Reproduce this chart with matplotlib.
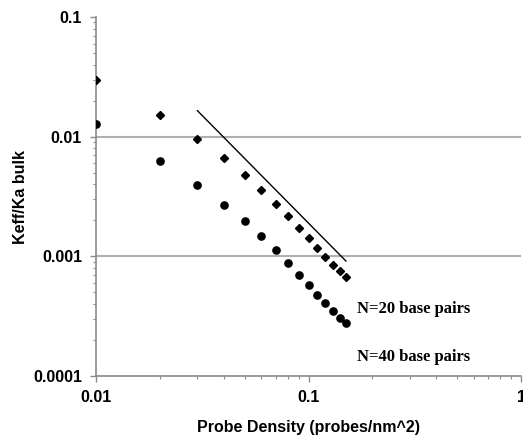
import numpy as np
import matplotlib
matplotlib.use("Agg")
import matplotlib.pyplot as plt
from matplotlib.ticker import LogLocator, NullFormatter, FixedLocator, FixedFormatter

# -------------------------------------------------
# Data
# -------------------------------------------------

probe_density = [0.01, 0.02, 0.03, 0.04, 0.05, 0.06, 0.07, 0.08,
                 0.09, 0.10, 0.11, 0.12, 0.13, 0.14, 0.15]

keff_n20 = [0.0299, 0.0151, 0.00957, 0.00659, 0.00476, 0.00357, 0.00275,
            0.00217, 0.00173, 0.00142, 0.00117, 0.000994, 0.000853,
            0.000755, 0.000673]

keff_n40 = [0.0128, 0.0063, 0.00393, 0.00268, 0.00196, 0.00147, 0.00113,
            0.00088, 0.000704, 0.000576, 0.000476, 0.000406, 0.000346,
            0.000303, 0.000275]

fit_x = [0.03, 0.15]
fit_y = [0.0165, 0.000914]

x_ticks = [0.01, 0.1, 1]
x_tick_labels = ["0.01", "0.1", "1"]
y_ticks = [0.0001, 0.001, 0.01, 0.1]
y_tick_labels = ["0.0001", "0.001", "0.01", "0.1"]

# -------------------------------------------------
# Figure
# -------------------------------------------------

plt.rcParams["font.family"] = ["Liberation Sans", "DejaVu Sans"]

fig = plt.figure(figsize=(5.23, 4.40), dpi=100)
ax = fig.add_axes([96 / 523, 1 - 376 / 440, 425 / 523, 359 / 440])

ax.set_xscale("log")
ax.set_yscale("log")
ax.set_xlim(0.01, 1)
ax.set_ylim(0.0001, 0.1)

for gy in [0.01, 0.001]:
    ax.axhline(gy, color="#b0b0b0", linewidth=1.5, zorder=1)

ax.plot(probe_density, keff_n20, linestyle="none", marker="D",
        markersize=4.2, color="black", zorder=3)
ax.plot(probe_density, keff_n40, linestyle="none", marker="o",
        markersize=5.2, color="black", zorder=3)
ax.plot(fit_x, fit_y, color="black", linewidth=1.0, zorder=2)

ax.text(0.17, 0.00036, "N=20 base pairs", family="Liberation Serif",
        fontweight="bold", fontsize=12, va="center", ha="left")
ax.text(0.17, 0.000144, "N=40 base pairs", family="Liberation Serif",
        fontweight="bold", fontsize=12, va="center", ha="left")

# Axes styling
for side in ["top", "right"]:
    ax.spines[side].set_visible(False)
for side in ["left", "bottom"]:
    ax.spines[side].set_color("#8a8a8a")
    ax.spines[side].set_linewidth(1.2)

ax.xaxis.set_major_locator(FixedLocator(x_ticks))
ax.xaxis.set_major_formatter(FixedFormatter(x_tick_labels))
ax.yaxis.set_major_locator(FixedLocator(y_ticks))
ax.yaxis.set_major_formatter(FixedFormatter(y_tick_labels))
ax.xaxis.set_minor_locator(LogLocator(base=10, subs=np.arange(2, 10)))
ax.yaxis.set_minor_locator(LogLocator(base=10, subs=np.arange(2, 10)))
ax.xaxis.set_minor_formatter(NullFormatter())
ax.yaxis.set_minor_formatter(NullFormatter())

ax.tick_params(which="major", direction="out", length=4, width=1,
               color="#8a8a8a", labelsize=11.5, pad=6)
ax.tick_params(which="minor", direction="out", length=2.5, width=0.8,
               color="#8a8a8a")
ax.tick_params(axis="x", which="major", pad=6)
for lab in ax.get_xticklabels() + ax.get_yticklabels():
    lab.set_fontweight("bold")

ax.set_xlabel("Probe Density (probes/nm^2)", fontsize=11.5,
              fontweight="bold", labelpad=11)
ax.set_ylabel("Keff/Ka bulk", fontsize=11.5, fontweight="bold", labelpad=4)

fig.savefig("out.png", dpi=100)
